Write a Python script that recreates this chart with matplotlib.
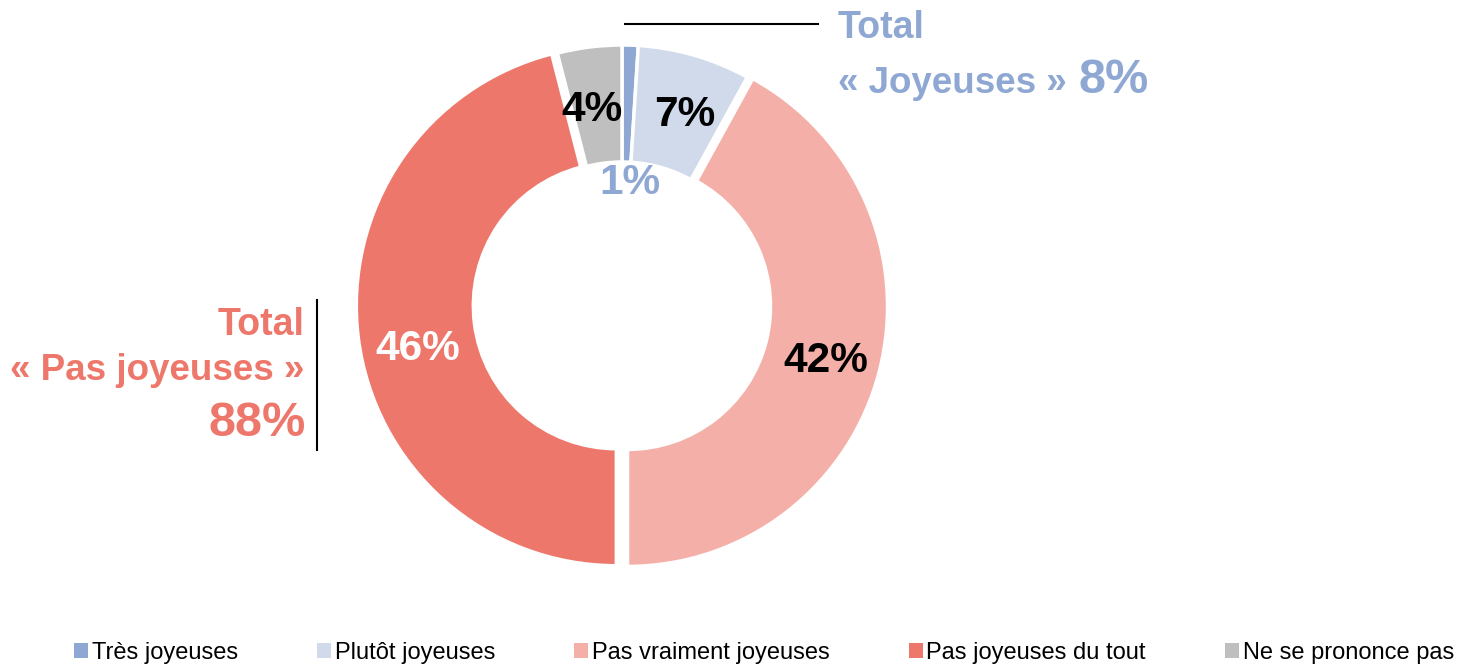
import numpy as np
from matplotlib import pyplot as plt
from matplotlib.patches import Patch

plt.rcParams['font.family'] = ['Liberation Sans', 'DejaVu Sans']

# données
categories = ['Très joyeuses', 'Plutôt joyeuses', 'Pas vraiment joyeuses',
              'Pas joyeuses du tout', 'Ne se prononce pas']
values = [1, 7, 42, 46, 4]
labels = ['1%', '7%', '42%', '46%', '4%']
colors = ['#8FA8D3', '#D0DAEB', '#F4B0A8', '#EE776B', '#BFBFBF']
label_colors = ['#8FA8D3', 'black', 'black', 'white', 'black']
explode = [0, 0, 0.022, 0.022, 0]

total_joy = '8%'
total_pas = '88%'

W, H = 1458, 664
fig = plt.figure(figsize=(W / 100, H / 100), dpi=100)

# axe du donut (centre ~ (622, 305) px, rayon ~263 px)
cx, cy, size = 622, 305, 600
ax = fig.add_axes([(cx - size / 2) / W, 1 - (cy + size / 2) / H, size / W, size / H])

width = 0.45
wedges, _ = ax.pie(values, colors=colors, startangle=90, counterclock=False,
                   explode=explode, radius=1,
                   wedgeprops=dict(width=width, edgecolor='white', linewidth=2.5))
lim = size / 2 / 260
ax.set_xlim(-lim, lim)
ax.set_ylim(-lim, lim)
ax.axis('off')

# étiquettes des parts (petits décalages d'angle / rayon comme sur l'original)
nudge_ang = [-2, -2, -1, 5, 1.5]
nudge_r = [0.47, 0.77, 0.79, 0.78, 0.76]
for w, lab, col, da, r in zip(wedges, labels, label_colors, nudge_ang, nudge_r):
    ang = np.deg2rad((w.theta1 + w.theta2) / 2 + da)
    ax.text(r * np.cos(ang) + w.center[0], r * np.sin(ang) + w.center[1], lab,
            ha='center', va='center', fontsize=30.5, fontweight='bold', color=col)

# totaux
blue = '#8FA8D3'
red = '#EE776B'
fig.text(838 / W, 1 - 38 / H, 'Total', ha='left', va='baseline',
         fontsize=27, fontweight='bold', color=blue)
fig.text(838 / W, 1 - 93 / H, '« Joyeuses »', ha='left', va='baseline',
         fontsize=26.5, fontweight='bold', color=blue)
fig.text(1078 / W, 1 - 93 / H, total_joy, ha='left', va='baseline',
         fontsize=35, fontweight='bold', color=blue)
fig.add_artist(plt.Line2D([625 / W, 818 / W], [1 - 24 / H, 1 - 24 / H],
                          color='black', linewidth=1.5))

fig.text(305 / W, 1 - 335 / H, 'Total', ha='right', va='baseline',
         fontsize=27, fontweight='bold', color=red)
fig.text(304 / W, 1 - 380 / H, '« Pas joyeuses »', ha='right', va='baseline',
         fontsize=26.5, fontweight='bold', color=red)
fig.text(306 / W, 1 - 436 / H, total_pas, ha='right', va='baseline',
         fontsize=35, fontweight='bold', color=red)
fig.add_artist(plt.Line2D([317 / W, 317 / W], [1 - 300 / H, 1 - 450 / H],
                          color='black', linewidth=1.5))

# légende
handles = [Patch(facecolor=c, edgecolor='none') for c in colors]
fig.legend(handles, categories, loc='center', bbox_to_anchor=(764 / W, 1 - 653 / H),
           ncol=5, frameon=False, fontsize=17, handlelength=0.6, handleheight=0.6,
           handletextpad=0.15, columnspacing=3.35, borderpad=0, borderaxespad=0)

plt.savefig('out.png', dpi=100)
plt.close()
